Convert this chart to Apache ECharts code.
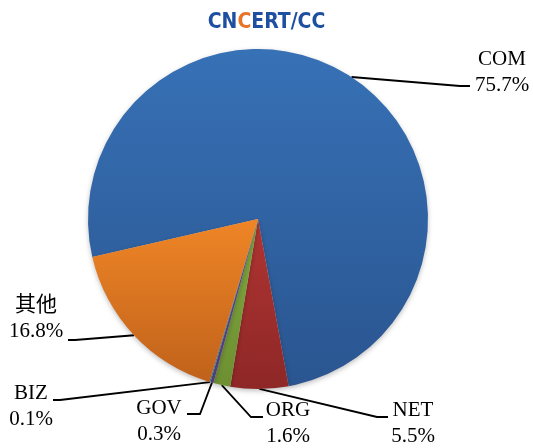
<!DOCTYPE html>
<html>
<head>
<meta charset="utf-8">
<script src="https://cdn.jsdelivr.net/npm/echarts@6/dist/echarts.min.js"></script>
<style>
  html, body { margin: 0; padding: 0; background: #fff; }
  #chart { width: 533px; height: 448px; }
</style>
</head>
<body>
<div id="chart"></div>
<script>
// 域名类别与占比
const categories = ['COM', 'NET', 'ORG', 'GOV', 'BIZ', '其他'];
const shares = [75.7, 5.5, 1.6, 0.3, 0.1, 16.8];
const shareLabels = ['75.7%', '5.5%', '1.6%', '0.3%', '0.1%', '16.8%'];

// 每块的渐变 (上浅下深), 类似 Excel 默认配色
const sliceColors = [
  ['#3771b6', '#2a5590'],
  ['#b03532', '#8e2727'],
  ['#80a83e', '#6d8f32'],
  ['#684f9b', '#574285'],
  ['#40a0bd', '#33869f'],
  ['#ef8526', '#c0621b']
];

// 标签位置 (标签中心) 和引线折点, 手动摆放
const labelPos = [
  { x: 502, y: 72, p1: [460, 86], p2: [470, 86] },
  { x: 413, y: 423, p1: [377, 417], p2: [388, 417] },
  { x: 288, y: 423, p1: [251, 417], p2: [263, 417] },
  { x: 159, y: 421, p1: [200, 414], p2: [187, 414] },
  { x: 31, y: 406, p1: [60, 400], p2: [53, 400] },
  { x: 36, y: 318, p1: [75, 340], p2: [68, 340] }
];

const chart = echarts.init(document.getElementById('chart'));

const data = categories.map((name, i) => ({
  name: name,
  value: shares[i],
  itemStyle: {
    color: new echarts.graphic.LinearGradient(0, 0, 0, 1, [
      { offset: 0, color: sliceColors[i][0] },
      { offset: 1, color: sliceColors[i][1] }
    ])
  }
}));

const logoFont = '"DejaVu Sans Condensed", "Liberation Sans Narrow", "Liberation Sans", sans-serif';

const option = {
  animation: false,
  title: {
    text: '{a|CN}{b|C}{a|ERT/CC}',
    left: 'center',
    top: 7,
    textStyle: {
      rich: {
        a: { fontFamily: logoFont, fontWeight: 'bold', fontSize: 21, color: '#1f4fa0' },
        b: { fontFamily: logoFont, fontWeight: 'bold', fontSize: 21, color: '#e8742a' }
      }
    }
  },
  series: [
    {
      type: 'pie',
      center: [258, 219],
      radius: 170,
      startAngle: 192.9,
      clockwise: true,
      avoidLabelOverlap: false,
      data: data,
      itemStyle: {
        shadowColor: 'rgba(0,0,0,0.25)',
        shadowBlur: 5,
        shadowOffsetY: 2
      },
      label: {
        show: true,
        formatter: (p) => p.name + '\n' + shareLabels[p.dataIndex],
        fontFamily: '"Liberation Serif", "Times New Roman", "Noto Sans CJK SC", serif',
        fontSize: 21,
        lineHeight: 26,
        color: '#000',
        align: 'center'
      },
      labelLine: {
        show: true,
        lineStyle: { color: '#000', width: 1.8 }
      },
      labelLayout: function (params) {
        const pos = labelPos[params.dataIndex];
        const start = params.labelLinePoints ? params.labelLinePoints[0] : pos.p1;
        return {
          x: pos.x,
          y: pos.y,
          align: 'center',
          verticalAlign: 'middle',
          labelLinePoints: [start, pos.p1, pos.p2]
        };
      }
    }
  ]
};

chart.setOption(option);
</script>
</body>
</html>
